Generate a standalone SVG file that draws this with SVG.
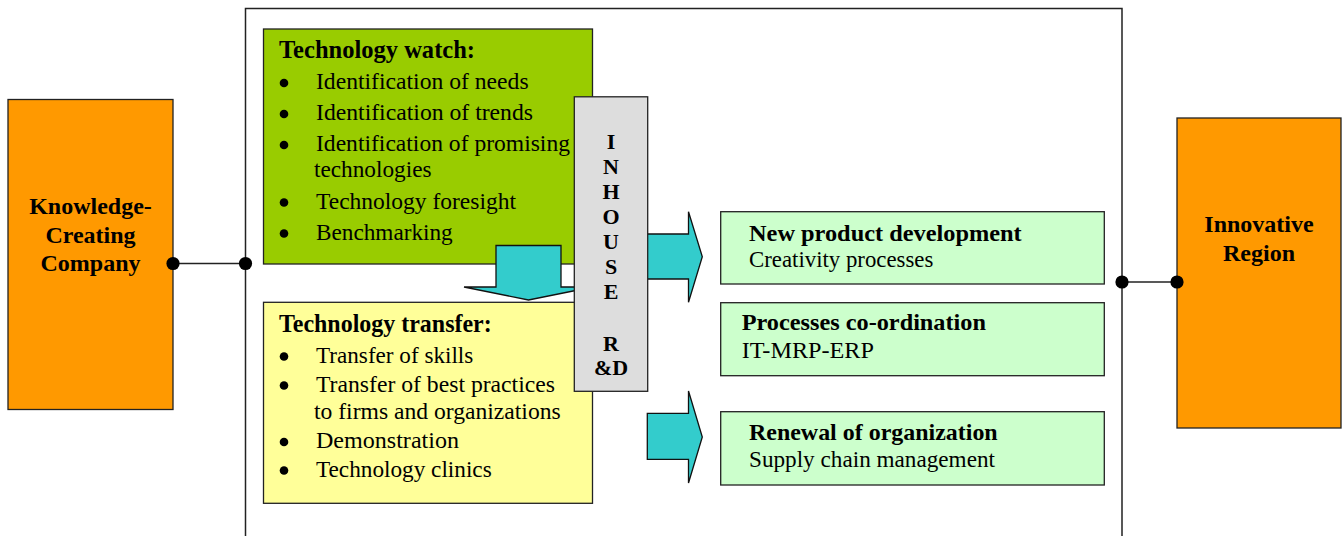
<svg xmlns="http://www.w3.org/2000/svg" width="1342" height="536" viewBox="0 0 1342 536">
<style>
.box{stroke:#222;stroke-width:1.3}
.orange{fill:#FF9900}
.green{fill:#99CC00}
.yellow{fill:#FFFF99}
.lgreen{fill:#CCFFCC}
.gray{fill:#DDDDDD}
.cyan{fill:#33CCCC;stroke:#111;stroke-width:1.3}
.t{font-family:"Liberation Serif","Times New Roman",serif;fill:#000}
.lt{font-size:23px}
.lh{font-size:25px;font-weight:bold}
.rt{font-size:22.5px}
.b{font-weight:bold}
.ct{font-size:24px;font-weight:bold;text-anchor:middle}
.gl{font-size:22px;font-weight:bold;text-anchor:middle}
.dot{fill:#000}
.ln{stroke:#222;stroke-width:1.5;fill:none}
</style>
<rect width="1342" height="536" fill="#fff"/>
<g id="frame">
<path class="ln" d="M245.5 540 V8.5 H1122 V540"/>
</g>
<g id="knowledge-company">
<rect class="box orange" x="8" y="99.5" width="165" height="310"/>
<text class="t ct" x="90.5" y="214">Knowledge-</text>
<text class="t ct" x="90.5" y="242.5">Creating</text>
<text class="t ct" x="90.5" y="270.5">Company</text>
</g>
<g id="innovative-region">
<rect class="box orange" x="1177" y="118" width="164" height="310"/>
<text class="t ct" x="1259" y="231.5">Innovative</text>
<text class="t ct" x="1259" y="261">Region</text>
</g>
<g id="technology-watch">
<rect class="box green" x="263.5" y="29" width="329" height="235"/>
<text class="t lh" x="279" y="58" textLength="196" lengthAdjust="spacingAndGlyphs">Technology watch:</text>
<circle class="dot" cx="284" cy="83" r="4.3"/>
<text class="t lt" x="316" y="89.3" textLength="212.6" lengthAdjust="spacingAndGlyphs">Identification of needs</text>
<circle class="dot" cx="284" cy="114" r="4.3"/>
<text class="t lt" x="316" y="119.8" textLength="217" lengthAdjust="spacingAndGlyphs">Identification of trends</text>
<circle class="dot" cx="284" cy="145" r="4.3"/>
<text class="t lt" x="316" y="151" textLength="254" lengthAdjust="spacingAndGlyphs">Identification of promising</text>
<text class="t lt" x="314" y="177" textLength="117.5" lengthAdjust="spacingAndGlyphs">technologies</text>
<circle class="dot" cx="284" cy="202.5" r="4.3"/>
<text class="t lt" x="316" y="208.5" textLength="200" lengthAdjust="spacingAndGlyphs">Technology foresight</text>
<circle class="dot" cx="284" cy="233.5" r="4.3"/>
<text class="t lt" x="316" y="239.5" textLength="136.7" lengthAdjust="spacingAndGlyphs">Benchmarking</text>
</g>
<g id="technology-transfer">
<rect class="box yellow" x="263.5" y="302.3" width="329" height="201"/>
<text class="t lh" x="279" y="331.7" textLength="212.7" lengthAdjust="spacingAndGlyphs">Technology transfer:</text>
<circle class="dot" cx="284" cy="356.5" r="4.3"/>
<text class="t lt" x="316" y="362.7" textLength="157.3" lengthAdjust="spacingAndGlyphs">Transfer of skills</text>
<circle class="dot" cx="284" cy="385.5" r="4.3"/>
<text class="t lt" x="316" y="391.7" textLength="239" lengthAdjust="spacingAndGlyphs">Transfer of best practices</text>
<text class="t lt" x="314" y="418.5" textLength="246.7" lengthAdjust="spacingAndGlyphs">to firms and organizations</text>
<circle class="dot" cx="284" cy="442" r="4.3"/>
<text class="t lt" x="316" y="448.3" textLength="143" lengthAdjust="spacingAndGlyphs">Demonstration</text>
<circle class="dot" cx="284" cy="470.5" r="4.3"/>
<text class="t lt" x="316" y="476.7" textLength="175.7" lengthAdjust="spacingAndGlyphs">Technology clinics</text>
</g>
<g id="new-product-development">
<rect class="box lgreen" x="720.7" y="211.7" width="383.6" height="72.3"/>
<text class="t rt b" x="749" y="240.7" textLength="272.7" lengthAdjust="spacingAndGlyphs">New product development</text>
<text class="t rt" x="749" y="266.7" textLength="184.3" lengthAdjust="spacingAndGlyphs">Creativity processes</text>
</g>
<g id="processes-coordination">
<rect class="box lgreen" x="720.7" y="302.7" width="383.6" height="73"/>
<text class="t rt b" x="741.7" y="330" textLength="244.3" lengthAdjust="spacingAndGlyphs">Processes co-ordination</text>
<text class="t rt" x="741.7" y="358.3" textLength="132.3" lengthAdjust="spacingAndGlyphs">IT-MRP-ERP</text>
</g>
<g id="renewal-of-organization">
<rect class="box lgreen" x="720.7" y="411.7" width="383.6" height="73.3"/>
<text class="t rt b" x="749" y="440.3" textLength="248.7" lengthAdjust="spacingAndGlyphs">Renewal of organization</text>
<text class="t rt" x="749" y="466.7" textLength="246" lengthAdjust="spacingAndGlyphs">Supply chain management</text>
</g>
<g id="connectors">
<path class="cyan" d="M496 245.5 H561 V287 H593 L528.5 300 L464 287 H496 Z"/>
<path class="cyan" d="M640 234 H688.5 V211.7 L702.3 256.7 L688.5 302.3 V279 H640 Z"/>
<path class="cyan" d="M647.3 413.3 H688.5 V391 L702.3 437 L688.5 483 V459.3 H647.3 Z"/>
<line class="ln" x1="173" y1="263.5" x2="245.5" y2="263.5"/>
<circle class="dot" cx="173" cy="263.5" r="6.6"/>
<circle class="dot" cx="245.5" cy="263.5" r="6.6"/>
<line class="ln" x1="1122" y1="282" x2="1177" y2="282"/>
<circle class="dot" cx="1122" cy="282" r="6.6"/>
<circle class="dot" cx="1177" cy="282" r="6.6"/>
</g>
<g id="inhouse-rd">
<rect class="box gray" x="574.3" y="96.8" width="73.4" height="294.5"/>
<text class="t gl" x="611" y="149">I</text>
<text class="t gl" x="611" y="174">N</text>
<text class="t gl" x="611" y="199">H</text>
<text class="t gl" x="611" y="224">O</text>
<text class="t gl" x="611" y="249">U</text>
<text class="t gl" x="611" y="273.5">S</text>
<text class="t gl" x="611" y="299">E</text>
<text class="t gl" x="611" y="351">R</text>
<text class="t gl" x="611" y="375">&amp;D</text>
</g>
</svg>
